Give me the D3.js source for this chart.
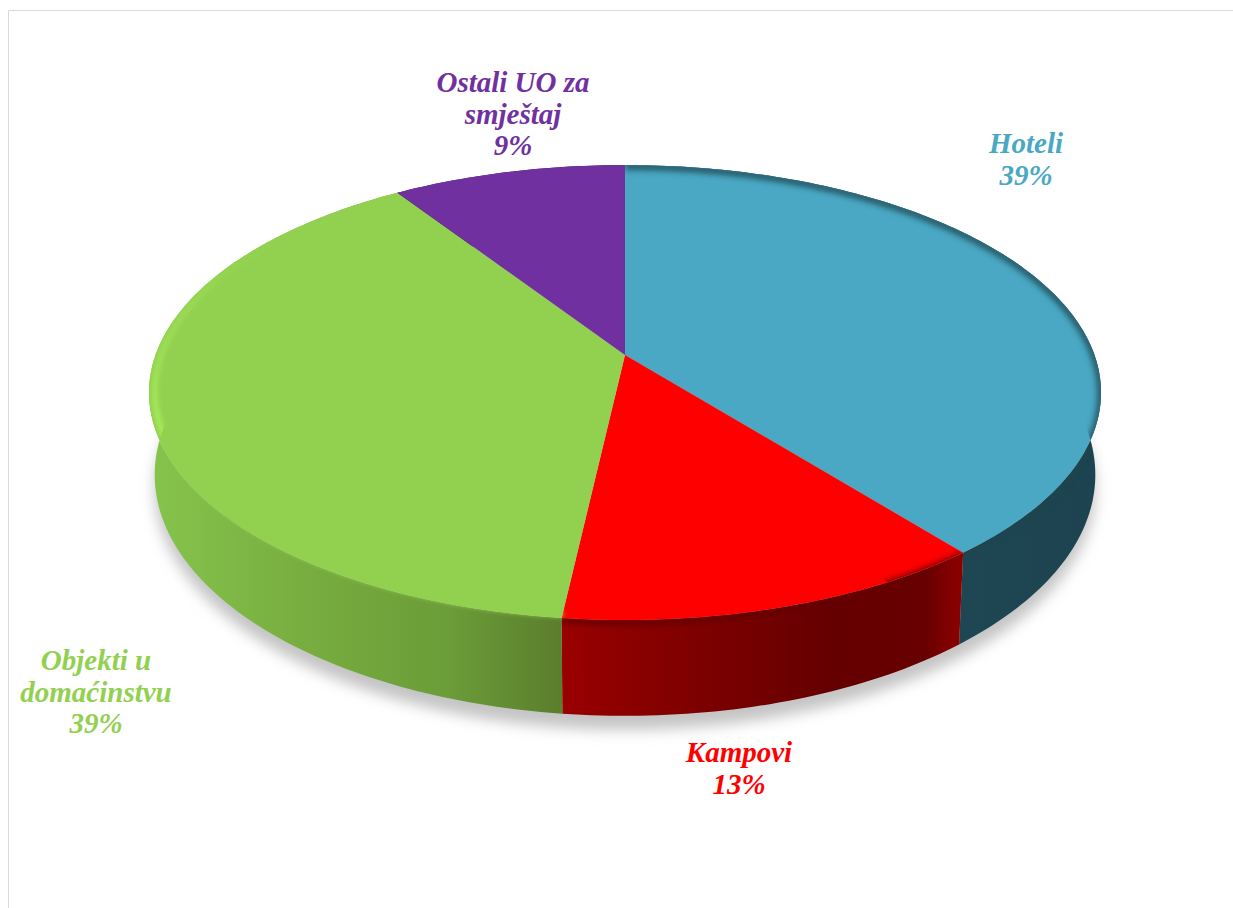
<!DOCTYPE html>
<html>
<head>
<meta charset="utf-8">
<script src="https://cdn.jsdelivr.net/npm/d3@7"></script>
<style>
html, body { margin: 0; padding: 0; background: #fff; overflow: hidden; }
svg { display: block; }
text { font-family: "Liberation Serif", serif; font-weight: bold; font-style: italic; font-size: 29px; }
</style>
</head>
<body>
<chart></chart>
<script>
var categories = ["Hoteli", "Kampovi", "Objekti u domaćinstvu", "Ostali UO za smještaj"];
var shares = [39.2, 12.6, 38.9, 9.3];
var labelLines = [["Hoteli"], ["Kampovi"], ["Objekti u", "domaćinstvu"], ["Ostali UO za", "smještaj"]];
var topColors = ["#4aa8c4", "#ff0000", "#92d050", "#7030a0"];
var rimColors = ["#1d4450", "#640000", "#a9f05c", "#7030a0"];

var width = 1233;
var height = 908;

var svg = d3.select("chart").append("svg");
svg.attr("width", width);
svg.attr("height", height);

var defs = svg.append("defs");
var blurs = { shadow: 7, rim: 2.6, dark: 3.2 };
Object.keys(blurs).forEach(function (k) {
    defs.append("filter")
        .attr("id", "blur-" + k)
        .attr("x", "-10%").attr("y", "-10%").attr("width", "120%").attr("height", "120%")
        .append("feGaussianBlur")
        .attr("stdDeviation", blurs[k]);
});

// side wall shading, left to right in screen space
function wallGradient(id, stops) {
    var g = defs.append("linearGradient")
        .attr("id", id)
        .attr("gradientUnits", "userSpaceOnUse")
        .attr("x1", 150).attr("x2", 1102).attr("y1", 0).attr("y2", 0);
    stops.forEach(function (s) {
        g.append("stop").attr("offset", (s[0] - 150) / 952).attr("stop-color", s[1]);
    });
}
wallGradient("wall-0", [[950, "#1f4753"], [1102, "#1c434f"]]);
wallGradient("wall-1", [[563, "#990000"], [700, "#7d0000"], [830, "#650000"], [925, "#670000"], [955, "#880000"]]);
wallGradient("wall-2", [[150, "#86c44c"], [300, "#78ae40"], [450, "#6b9c38"], [565, "#5a7d2c"]]);
wallGradient("wall-3", [[150, "#3a1a55"], [1102, "#3a1a55"]]);

// green highlight fades out toward the back of the disk
var fade = defs.append("linearGradient")
    .attr("id", "rim-fade")
    .attr("gradientUnits", "userSpaceOnUse")
    .attr("x1", 0).attr("x2", 0).attr("y1", 240).attr("y2", 420);
fade.append("stop").attr("offset", 0).attr("stop-color", "#a9f05c").attr("stop-opacity", 0);
fade.append("stop").attr("offset", 1).attr("stop-color", "#a9f05c").attr("stop-opacity", 1);

// perspective pie: unit disk -> screen
var tilt = 0.165;
var wallDepth = 80;
var xScale = d3.scaleLinear().domain([-1, 1]).range([155.5, 1094.5]);
var yScale = d3.scaleLinear().domain([-1, 1]).range([133.7, 576.3]);
var wallInset = d3.scaleLinear().domain([0, 1]).range([0, 0.012]);

function project(angle, r, drop) {
    var u = Math.sin(angle) * r;
    var v = -Math.cos(angle) * r;
    var w = 1 - tilt * v;
    var sx = u / w * (1 - wallInset(drop));
    var sy = v / w;
    return [xScale(sx), yScale(sy) + drop * wallDepth / w];
}

function arcPoints(a0, a1, r, drop) {
    var n = Math.ceil((a1 - a0) / (Math.PI / 180));
    return d3.range(n + 1).map(function (i) {
        return project(a0 + (a1 - a0) * i / n, r, drop);
    });
}

var line = d3.line();
var pie = d3.pie().sort(null);
var slices = pie(shares);

// drop shadow under the whole puck
var shadowPts = arcPoints(0, 2 * Math.PI, 1, 1).map(function (p) { return [p[0], p[1] + 14]; });
svg.append("path")
    .attr("d", line(shadowPts) + "Z")
    .attr("fill", "#c4c4c4")
    .attr("filter", "url(#blur-shadow)");

// chart frame
svg.append("path")
    .attr("d", "M8.5,908V10.5H1233")
    .attr("fill", "none")
    .attr("stroke", "#d9d9d9")
    .attr("stroke-width", 1);

// clip for wall + top of each slice
slices.forEach(function (d, i) {
    var top = arcPoints(d.startAngle, d.endAngle, 1, 0);
    var bottom = arcPoints(d.startAngle, d.endAngle, 1, 1).reverse();
    var wedge = [project(0, 0, 0)].concat(top);
    defs.append("clipPath").attr("id", "clip-top-" + i)
        .append("path").attr("d", line(wedge) + "Z");
    defs.append("clipPath").attr("id", "clip-all-" + i)
        .append("path").attr("d", line(wedge.concat(bottom)) + "Z");
});

// walls
slices.forEach(function (d, i) {
    var top = arcPoints(d.startAngle, d.endAngle, 1, 0);
    var bottom = arcPoints(d.startAngle, d.endAngle, 1, 1).reverse();
    svg.append("path")
        .attr("class", "wall")
        .attr("d", line(top.concat(bottom)) + "Z")
        .attr("fill", "url(#wall-" + i + ")");
});

// top faces
slices.forEach(function (d, i) {
    var wedge = [project(0, 0, 0)].concat(arcPoints(d.startAngle, d.endAngle, 1, 0));
    svg.append("path")
        .attr("class", "slice")
        .attr("d", line(wedge) + "Z")
        .attr("fill", topColors[i]);
});

// soft bevel along the rim
slices.forEach(function (d, i) {
    if (i === 3) return;
    var g = svg.append("g").attr("clip-path", "url(#clip-all-" + i + ")");
    if (i === 2) {
        // highlight, plus a blend into the wall below it
        g.append("path")
            .attr("d", line(arcPoints(d.startAngle, d.endAngle, 0.988, 0)))
            .attr("fill", "none")
            .attr("stroke", "url(#rim-fade)")
            .attr("stroke-width", 5)
            .attr("filter", "url(#blur-rim)");
    } else {
        g.append("path")
            .attr("d", line(arcPoints(d.startAngle, d.endAngle, 1, 0.02)))
            .attr("fill", "none")
            .attr("stroke", rimColors[i])
            .attr("stroke-width", 6)
            .attr("filter", "url(#blur-dark)");
    }
});

// labels
var labelX = [1026, 739, 96, 513];
var labelY = [153, 762, 670, 92];
var lineStep = 31.5;
slices.forEach(function (d, i) {
    var t = svg.append("text")
        .attr("text-anchor", "middle")
        .attr("fill", topColors[i]);
    labelLines[i].concat([Math.round(shares[i]) + "%"]).forEach(function (s, j) {
        t.append("tspan")
            .attr("x", labelX[i])
            .attr("y", labelY[i] + j * lineStep)
            .text(s);
    });
});
</script>
</body>
</html>
